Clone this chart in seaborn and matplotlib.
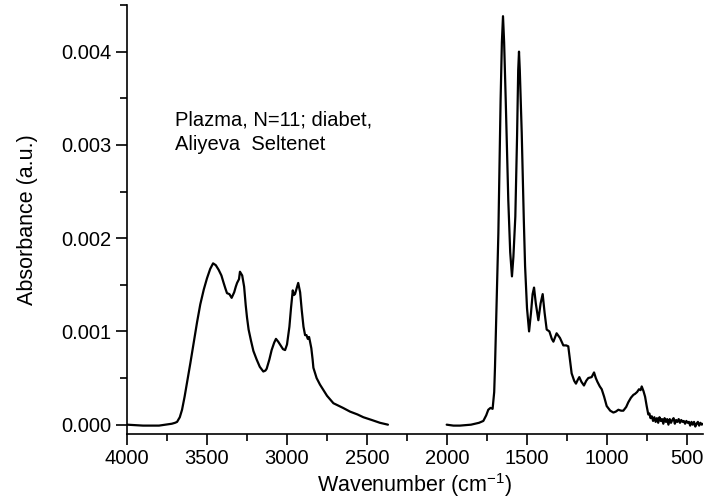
import matplotlib
matplotlib.use("Agg")
import matplotlib.pyplot as plt
from matplotlib.ticker import MultipleLocator, FormatStrFormatter
import pandas as pd
import seaborn as sns

# O-H / C-H stretching region (cm^-1, absorbance)
wn_high = [4000, 3900, 3800, 3720, 3700, 3687, 3670, 3656, 3640, 3625, 3604, 3583,
           3562, 3542, 3520, 3500, 3480, 3462, 3445, 3427, 3410, 3396, 3385, 3375,
           3360, 3346, 3330, 3320, 3312, 3300, 3294, 3280, 3268, 3258, 3250, 3240,
           3225, 3210, 3190, 3170, 3148, 3135, 3127, 3110, 3096, 3080, 3069, 3055,
           3040, 3025, 3012, 3000, 2985, 2975, 2964, 2957, 2950, 2940, 2930, 2918,
           2908, 2897, 2887, 2878, 2870, 2862, 2856, 2848, 2840, 2835, 2815, 2794,
           2750, 2710, 2650, 2606, 2560, 2523, 2470, 2419, 2369]
abs_high = [0.0, -0.00001, -0.00001, 0.00001, 0.00002, 0.00003, 0.00008, 0.00016,
            0.0003, 0.00045, 0.00066, 0.00088, 0.0011, 0.00129, 0.00145, 0.00157,
            0.00167, 0.00173, 0.00171, 0.00166, 0.0016, 0.00152, 0.00146, 0.00141,
            0.0014, 0.00136, 0.00142, 0.00148, 0.00152, 0.00156, 0.00164, 0.0016,
            0.00148, 0.00128, 0.00115, 0.00102, 0.0009, 0.00079, 0.0007, 0.00062,
            0.00057, 0.00058, 0.0006, 0.0007, 0.0008, 0.00088, 0.00092, 0.00089,
            0.00085, 0.00081, 0.0008, 0.00086, 0.00105, 0.00125, 0.00144, 0.00139,
            0.0014, 0.00146, 0.00152, 0.00142, 0.00123, 0.00105, 0.00096, 0.00096,
            0.00092, 0.00094, 0.00089, 0.00082, 0.0007, 0.00061, 0.0005, 0.00043,
            0.00031, 0.00023, 0.00018, 0.00014, 0.00011, 0.00008, 0.00005, 0.00002,
            0.0]

# Fingerprint region (cm^-1, absorbance)
wn_low = [2002, 1960, 1919, 1850, 1800, 1773, 1755, 1742, 1728, 1715, 1705, 1700,
          1690, 1679, 1665, 1657, 1650, 1643, 1633, 1617, 1605, 1594, 1585, 1573,
          1562, 1555, 1550, 1545, 1533, 1520, 1512, 1500, 1487, 1475, 1465, 1456,
          1445, 1429, 1415, 1402, 1390, 1377, 1360, 1345, 1335, 1315, 1294, 1273,
          1255, 1242, 1232, 1221, 1205, 1194, 1183, 1173, 1160, 1144, 1130, 1117,
          1096, 1081, 1070, 1060, 1045, 1033, 1018, 1002, 980, 960, 945, 929, 912,
          898, 880, 867, 850, 835, 825, 812, 800, 790, 783, 772, 762, 752, 742, 735,
          728, 720, 712, 704, 696, 688, 680, 672, 664, 656, 648, 640, 632, 624, 616,
          608, 600, 592, 584, 576, 568, 560, 552, 544, 536, 528, 520, 512, 504, 496,
          488, 480, 472, 464, 456, 448, 440, 432, 424, 416, 408, 400]
abs_low = [0.0, -0.00001, -0.00001, 0.0, 0.00002, 0.00004, 0.0001, 0.00016, 0.00018,
           0.00017, 0.00035, 0.00062, 0.0013, 0.00205, 0.00348, 0.0041, 0.00438,
           0.0041, 0.00348, 0.00241, 0.00185, 0.00159, 0.0018, 0.00223, 0.0031,
           0.0038, 0.004, 0.0038, 0.00313, 0.0022, 0.0017, 0.00125, 0.001, 0.0012,
           0.0014, 0.00147, 0.0013, 0.00112, 0.0013, 0.0014, 0.0012, 0.00102, 0.001,
           0.00092, 0.00089, 0.00098, 0.00093, 0.00085, 0.00085, 0.00084, 0.0007,
           0.00055, 0.00047, 0.00044, 0.00048, 0.00051, 0.00046, 0.00042, 0.00047,
           0.0005, 0.00051, 0.00056, 0.0005, 0.00046, 0.00041, 0.00038, 0.0003,
           0.0002, 0.00015, 0.00013, 0.00014, 0.00016, 0.00015, 0.00015, 0.00019,
           0.00024, 0.00029, 0.00032, 0.00033, 0.00035, 0.00038, 0.00037, 0.00041,
           0.00036, 0.0003, 0.0002, 0.00011, 0.00012, 0.00007, 0.00009, 0.00004,
           0.00008, 0.00003, 0.00007, 0.00002, 0.00008, 0.00004, 0.00006, 0.00001,
           0.00007, 0.00003, 0.00006, 0.0, 0.00006, 0.00002, 0.00005, 0.00007,
           0.00001, 0.00005, 0.00003, 0.00006, 0.00002, 0.00005, 0.00003, 0.00004,
           0.00001, 0.00004, 0.00002, 0.00003, -0.00001, 0.00003, 0.0, 0.00003,
           -0.00002, 0.00001, 0.00003, -0.00001, 0.00002, 0.0, 0.00001]

annotation_lines = ["Plazma, N=11; diabet,", "Aliyeva  Seltenet"]

sns.set_theme(style="ticks")
plt.rcParams["font.family"] = ["Liberation Sans", "DejaVu Sans"]
plt.rcParams["text.color"] = "black"
plt.rcParams["axes.labelcolor"] = "black"

TICK_FS = 14.5
LABEL_FS = 15.5

df = pd.concat([
    pd.DataFrame({"wn": wn_high, "A": abs_high, "seg": "high"}),
    pd.DataFrame({"wn": wn_low, "A": abs_low, "seg": "low"}),
], ignore_index=True)

fig = plt.figure(figsize=(7.04, 5.04), dpi=100)
ax = fig.add_axes([127 / 704, 70 / 504, 576 / 704, 429 / 504])

sns.lineplot(data=df, x="wn", y="A", units="seg", estimator=None, sort=False,
             color="black", linewidth=1.6, ax=ax)

ax.set_xlim(4000, 400)
ax.set_ylim(-0.0001, 0.0045)
ax.xaxis.set_major_locator(MultipleLocator(500))
ax.xaxis.set_minor_locator(MultipleLocator(250))
ax.yaxis.set_major_locator(MultipleLocator(0.001))
ax.yaxis.set_minor_locator(MultipleLocator(0.0005))
ax.yaxis.set_major_formatter(FormatStrFormatter("%.3f"))

for side in ("top", "right"):
    ax.spines[side].set_visible(False)
for side in ("left", "bottom"):
    ax.spines[side].set_linewidth(1.2)
    ax.spines[side].set_color("black")

ax.tick_params(which="major", direction="out", length=8, width=1.2,
               labelsize=TICK_FS, colors="black", pad=3)
ax.tick_params(which="minor", direction="out", length=5, width=1.2, colors="black")

ax.set_xlabel("Wavenumber (cm$^{\\mathregular{-1}}$)", fontsize=LABEL_FS, labelpad=2)
ax.set_ylabel("Absorbance (a.u.)", fontsize=LABEL_FS, labelpad=17)

ax.text(3700, 0.00327, annotation_lines[0], fontsize=TICK_FS, va="center",
        ha="left", color="black")
ax.text(3700, 0.00300, annotation_lines[1], fontsize=TICK_FS, va="center",
        ha="left", color="black")

fig.savefig("out.png", dpi=100)
